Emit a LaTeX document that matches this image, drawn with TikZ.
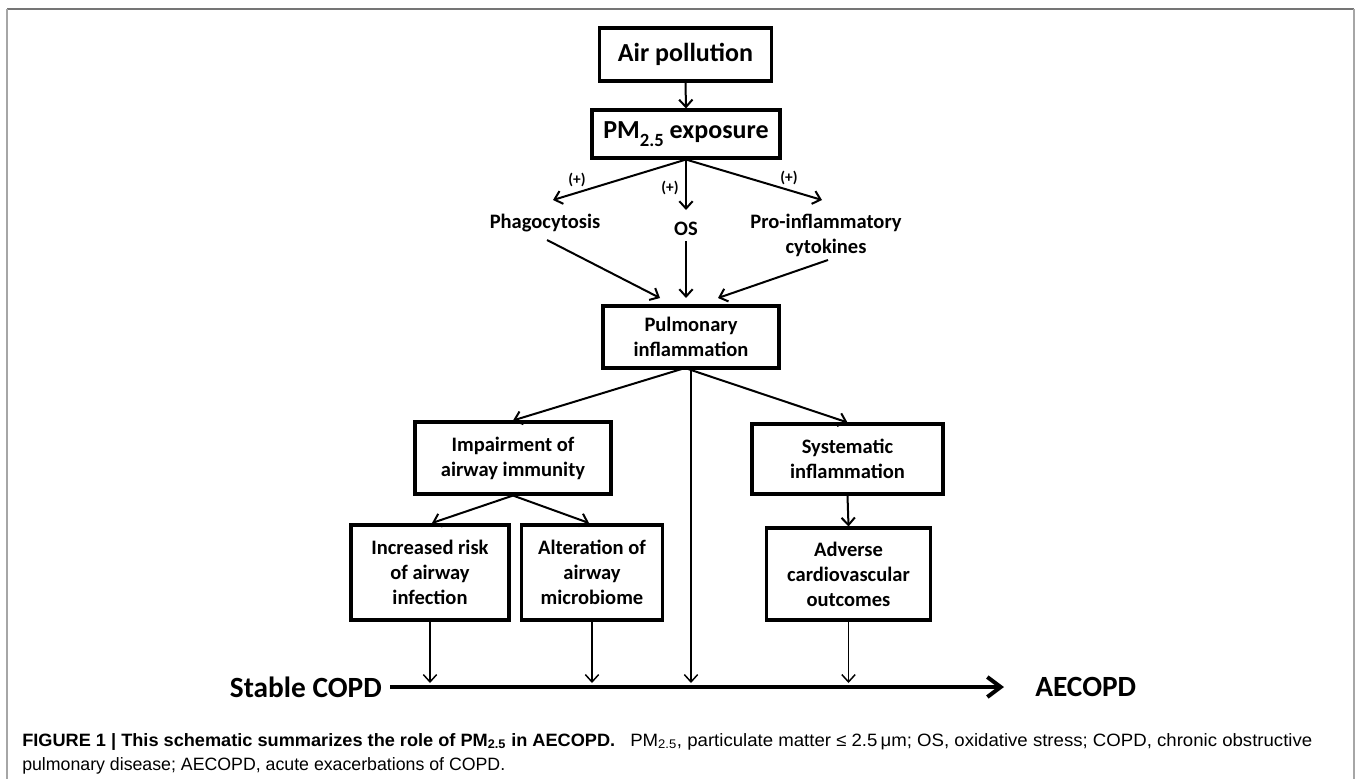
\documentclass[tikz,border=0pt]{standalone}
\usepackage{fontspec}
\usepackage{graphicx}
\setmainfont{Carlito}
\newfontfamily\capfont{Liberation Sans}
\usetikzlibrary{arrows.meta,calc}
\tikzset{
  box/.style={draw, line width=2.3pt, align=center, inner sep=0pt,
    font=\bfseries\fontsize{15.4}{18.75}\selectfont},
  bigbox/.style={box, font=\bfseries\fontsize{19.5}{23}\selectfont},
  lbl/.style={align=center, inner sep=0pt, font=\bfseries\fontsize{15.4}{18.75}\selectfont},
  plus/.style={inner sep=0pt, font=\bfseries\fontsize{11.5}{13}\selectfont},
  arr/.style={line width=1.5pt, -{Straight Barb[length=5.5pt,width=10pt,line width=1.5pt]}},
  thinarr/.style={line width=1.1pt, -{Straight Barb[length=5.5pt,width=10pt,line width=1.1pt]}},
  tl/.style={line width=3.6pt, -{Straight Barb[length=10pt,width=15pt,line width=3pt]}},
  endlbl/.style={inner sep=0pt, font=\bfseries\fontsize{22}{26}\selectfont},
  capstyle/.style={anchor=base west, inner sep=0pt, font=\capfont\fontsize{13.4}{16}\selectfont},
  frame/.style={line width=1.5pt}
}
\begin{document}
\begin{tikzpicture}[x=0.75pt,y=-0.75pt]
\useasboundingbox (0,0) rectangle (1357,779);
% frame
\draw[frame, gray!80!black!90] (7,9) -- (1354,9);
\draw[frame, gray!70] (7,9) -- (7,779);
\draw[frame, gray!70] (1354,9) -- (1354,779);

% nodes
\node[bigbox, minimum width=172*0.75pt, minimum height=53*0.75pt] (air) at (685.5,54.5) {Air pollution};
\node[bigbox, minimum width=188*0.75pt, minimum height=48*0.75pt] (pm) at (686,134) {PM\raisebox{-0.3em}{\fontsize{14}{14}\selectfont 2.5} exposure};
\node[lbl] (phago) at (545,223) {Phagocytosis};
\node[lbl] (os) at (686,229) {OS};
\node[lbl] (pro) at (826,235) {Pro-inflammatory\\cytokines};
\node[box, minimum width=176*0.75pt, minimum height=62*0.75pt] (pulm) at (691,337) {Pulmonary\\inflammation};
\node[box, minimum width=196*0.75pt, minimum height=72*0.75pt] (imp) at (513,458) {Impairment of\\airway immunity};
\node[box, minimum width=191*0.75pt, minimum height=70*0.75pt] (sys) at (847.5,459) {Systematic\\inflammation};
\node[box, minimum width=158*0.75pt, minimum height=95*0.75pt] (inc) at (430,572.5) {Increased risk\\of airway\\infection};
\node[box, minimum width=141*0.75pt, minimum height=95*0.75pt] (alt) at (592,572.5) {Alteration of\\airway\\microbiome};
\node[box, minimum width=164*0.75pt, minimum height=92*0.75pt] (adv) at (848.5,574) {Adverse\\cardiovascular\\outcomes};

\node[endlbl, anchor=east] (stable) at (382,687) {Stable COPD};
\node[endlbl, anchor=west] (aecopd) at (1035,687) {AECOPD};

% (+) labels
\node[plus] (p1) at (577,180) {(+)};
\node[plus] (p2) at (670,188) {(+)};
\node[plus] (p3) at (789,178) {(+)};

% coordinates
\coordinate (tlS) at (390,687);
\coordinate (tlE) at (1004,687);
\coordinate (hit) at (0,683);
\coordinate (phagoIn) at (553,200);
\coordinate (osIn) at (686,210);
\coordinate (proIn) at (822,200);
\coordinate (phagoOut) at (547,240);
\coordinate (osOut) at (686,241);
\coordinate (proOut) at (828,260);
\coordinate (pulmA) at (660,298);
\coordinate (pulmB) at (686,298);
\coordinate (pulmC) at (718,298);
\coordinate (pulmS) at (685,368);
\coordinate (immA) at (432,523);
\coordinate (immB) at (589,523);

% connectors
\draw[arr] (air.south) -- (pm.north);
\draw[arr] (pm.south) -- (phagoIn);
\draw[arr] (pm.south) -- (osIn);
\draw[arr] (pm.south) -- (proIn);
\draw[arr] (phagoOut) -- (pulmA);
\draw[arr] (osOut) -- (pulmB);
\draw[arr] (proOut) -- (pulmC);
\draw[arr] (pulmS) -- (imp.north);
\draw[arr] (pulmS) -- (sys.north);
\draw[arr] (imp.south) -- (immA);
\draw[arr] (imp.south) -- (immB);
\draw[arr] (sys.south) -- (adv.north);

\draw[tl] (tlS) -- (tlE);
\draw[thinarr] (inc.south) -- (inc.south |- hit);
\draw[thinarr] (alt.south) -- (alt.south |- hit);
\draw[thinarr] (pulm.south) -- (pulm.south |- hit);
\draw[thinarr] (adv.south) -- (adv.south |- hit);

% caption
\node[capstyle] (cap1) at (22,746)
 {\resizebox{444.75pt}{\height}{\textbf{FIGURE 1 | This schematic summarizes the role of PM\textsubscript{2.5} in AECOPD.}}\hspace{11.25pt}\resizebox{511.5pt}{\height}{PM\textsubscript{2.5}, particulate matter ≤ 2.5\,μm; OS, oxidative stress; COPD, chronic obstructive}};
\node[capstyle] (cap2) at (22,770)
 {\resizebox{362.25pt}{\height}{pulmonary disease; AECOPD, acute exacerbations of COPD.}};
\end{tikzpicture}
\end{document}
